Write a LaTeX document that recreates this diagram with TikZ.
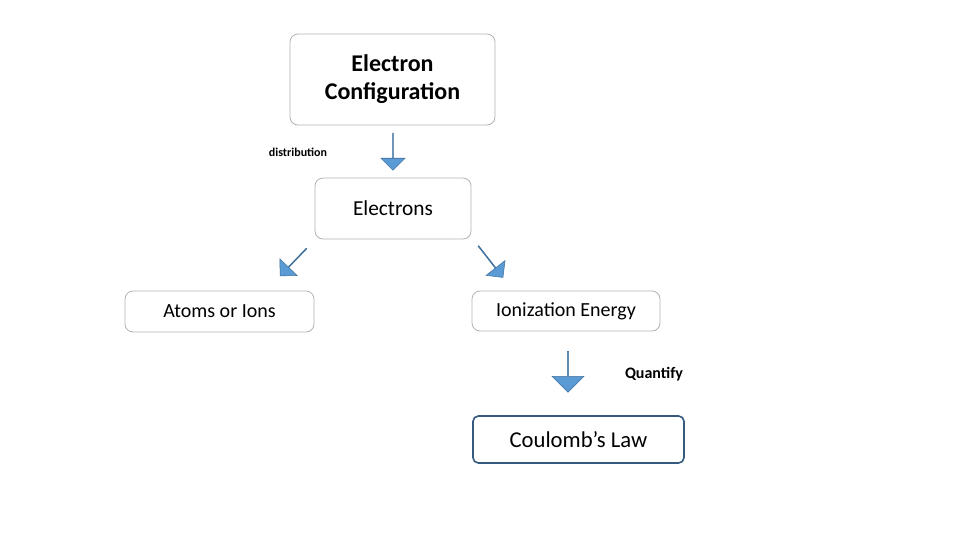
\documentclass[tikz,border=0pt]{standalone}
\usepackage{fontspec}
\setmainfont{Carlito}
\usetikzlibrary{shapes.arrows}
\definecolor{arr}{RGB}{91,155,213}
\definecolor{arrd}{RGB}{65,113,156}
\begin{document}
\begin{tikzpicture}[x=0.75pt,y=-0.75pt,
 box/.style={draw=black!30,rounded corners=6pt,line width=0.6pt,align=center,inner sep=0pt},
 barrow/.style={single arrow,fill=arr,draw=arrd,line width=0.4pt,inner sep=0pt,single arrow head extend=5pt,minimum width=22pt}]
\useasboundingbox (0,0) rectangle (960,540);
\node[box,minimum width=205*0.75pt,minimum height=91*0.75pt,font=\fontsize{18}{21}\selectfont\bfseries] (ec) at (392.5,79.5) {Electron\\Configuration};
\node[box,minimum width=156*0.75pt,minimum height=61*0.75pt,font=\fontsize{16}{19}\selectfont] (el) at (393,208.5) {Electrons};
\node[box,minimum width=189*0.75pt,minimum height=41*0.75pt,font=\fontsize{15}{18}\selectfont] (at) at (219.5,311.5) {Atoms or Ions};
\node[box,minimum width=188*0.75pt,minimum height=40*0.75pt,font=\fontsize{15}{18}\selectfont] (ie) at (566,311) {Ionization Energy};
\node[draw=arrd!80!black,rounded corners=4pt,line width=1.2pt,minimum width=211*0.75pt,minimum height=47*0.75pt,inner sep=0pt,font=\fontsize{17}{20}\selectfont] (cl) at (578.5,439.5) {Coulomb’s Law};
\node[font=\fontsize{9}{11}\selectfont\bfseries] (d) at (298,152) {distribution};
\node[font=\fontsize{12}{14}\selectfont\bfseries] (q) at (654,374) {Quantify};
\node[barrow,rotate=-90,minimum height=37*0.75pt,minimum width=18pt] (a1) at (393,151.5) {};
\node[barrow,rotate=-134,minimum height=38*0.75pt,minimum width=18pt] (a2) at (293.5,262) {};
\node[barrow,rotate=-52,minimum height=40*0.75pt,minimum width=18pt] (a3) at (490.5,261.5) {};
\node[barrow,rotate=-90,minimum height=41*0.75pt,minimum width=24pt] (a4) at (568,371.5) {};
\end{tikzpicture}
\end{document}
